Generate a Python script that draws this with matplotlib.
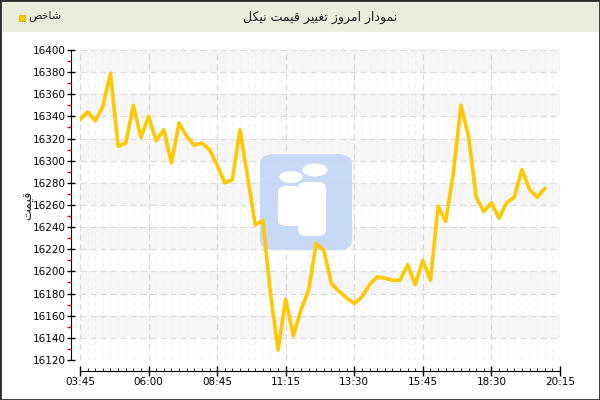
import matplotlib
matplotlib.use("Agg")
import matplotlib.pyplot as plt
from matplotlib.patches import Rectangle, FancyBboxPatch, Ellipse
from matplotlib.ticker import MultipleLocator

# nickel price, one value per sample (x axis is the sample index)
prices = [
    16337, 16344, 16336, 16349, 16379, 16313, 16316, 16350, 16321, 16340,
    16318, 16328, 16298, 16334, 16322, 16314, 16316, 16310, 16296, 16280,
    16283, 16328, 16285, 16242, 16246, 16180, 16129, 16175, 16142, 16165,
    16183, 16225, 16219, 16189, 16182, 16176, 16171, 16177, 16188, 16195,
    16194, 16192, 16192, 16206, 16188, 16210, 16192, 16259, 16245, 16289,
    16350, 16322, 16267, 16254, 16262, 16248, 16262, 16267, 16292, 16274,
    16267, 16275,
]
tick_index = [0, 9, 18, 27, 36, 45, 54, 63]
tick_labels = ["03:45", "06:00", "08:45", "11:15", "13:30", "15:45", "18:30", "20:15"]

title_text = "نمودار امروز تغییر قیمت نیکل"
legend_text = "شاخص"
ylabel_text = "قیمت"

# matplotlib has no arabic shaping, so pick presentation forms by hand
FORMS = {
    "ا": ("\ufe8d", "\ufe8e", None, None),
    "د": ("\ufea9", "\ufeaa", None, None),
    "ر": ("\ufead", "\ufeae", None, None),
    "ز": ("\ufeaf", "\ufeb0", None, None),
    "و": ("\ufeed", "\ufeee", None, None),
    "ت": ("\ufe95", "\ufe96", "\ufe97", "\ufe98"),
    "خ": ("\ufea5", "\ufea6", "\ufea7", "\ufea8"),
    "ش": ("\ufeb5", "\ufeb6", "\ufeb7", "\ufeb8"),
    "ص": ("\ufeb9", "\ufeba", "\ufebb", "\ufebc"),
    "غ": ("\ufecd", "\ufece", "\ufecf", "\ufed0"),
    "ق": ("\ufed5", "\ufed6", "\ufed7", "\ufed8"),
    "ل": ("\ufedd", "\ufede", "\ufedf", "\ufee0"),
    "م": ("\ufee1", "\ufee2", "\ufee3", "\ufee4"),
    "ن": ("\ufee5", "\ufee6", "\ufee7", "\ufee8"),
    "ی": ("\ufbfc", "\ufbfd", "\ufbfe", "\ufbff"),
    "ک": ("\ufb8e", "\ufb8f", "\ufb90", "\ufb91"),
}


def shape(text):
    out = []
    for i, ch in enumerate(text):
        if ch not in FORMS:
            out.append(ch)
            continue
        prev = text[i - 1] if i > 0 else ""
        nxt = text[i + 1] if i + 1 < len(text) else ""
        jp = prev in FORMS and FORMS[prev][2] is not None
        jn = nxt in FORMS and FORMS[ch][2] is not None
        iso, fin, ini, med = FORMS[ch]
        if jp and jn:
            out.append(med)
        elif jp:
            out.append(fin)
        elif jn:
            out.append(ini)
        else:
            out.append(iso)
    return "".join(out)[::-1]


W, H = 600, 400
fig = plt.figure(figsize=(6, 4), dpi=100)
fig.patch.set_facecolor("white")


def px(x, y):
    return x / W, 1 - y / H


# header band
fig.add_artist(Rectangle(px(0, 32), 1, 32 / H, transform=fig.transFigure,
                         facecolor="#ECECDC", edgecolor="none", zorder=0))
fig.add_artist(Rectangle((0, 0), 1, 1, transform=fig.transFigure,
                         facecolor="none", edgecolor="#2b2b2b", lw=2, zorder=10))
fig.text(*px(320, 17), shape(title_text), ha="center", va="center", fontsize=9, color="#222222")
fig.add_artist(Rectangle(px(19, 21), 6 / W, 6 / H, transform=fig.transFigure,
                         facecolor="#FFC800", edgecolor="#D8A800", lw=0.5))
fig.text(*px(28, 16), shape(legend_text), ha="left", va="center", fontsize=8, color="#222222")

ax = fig.add_axes([80 / W, 1 - 360 / H, 480 / W, 310 / H])
ax.set_xlim(0, 63)
ax.set_ylim(16120, 16400)

# alternating light bands
for lo in range(16140, 16400, 40):
    ax.axhspan(lo, lo + 20, color="#F6F6F6", zorder=0, lw=0)

for i in range(0, 64):
    if i % 9:
        ax.axvline(i, color="#F0F0F0", lw=0.7, ls=(0, (4, 4)), zorder=1)
for i in tick_index:
    ax.axvline(i, color="#D9D9D9", lw=0.9, ls=(0, (5, 3)), zorder=1)
for v in range(16120, 16401, 20):
    ax.axhline(v, color="#DCDCDC", lw=0.9, ls=(0, (5, 3)), zorder=1)

# watermark logo
logo = FancyBboxPatch(px(260, 250), 92 / W, 96 / H, boxstyle="round,pad=0,rounding_size=0.025",
                      transform=fig.transFigure, facecolor="#C3D7F6", edgecolor="none",
                      alpha=0.92, zorder=1.5, clip_on=False)
ax.add_patch(logo)
ax.add_patch(Ellipse(px(291, 177), 23 / W, 12 / H, transform=fig.transFigure,
                     facecolor="white", edgecolor="none", zorder=1.6, clip_on=False))
ax.add_patch(Ellipse(px(315, 170), 25 / W, 13 / H, transform=fig.transFigure,
                     facecolor="white", edgecolor="none", zorder=1.6, clip_on=False))
ax.add_patch(FancyBboxPatch(px(278, 226), 24 / W, 40 / H, boxstyle="round,pad=0,rounding_size=0.015",
                            transform=fig.transFigure, facecolor="white", edgecolor="none",
                            zorder=1.6, clip_on=False))
ax.add_patch(FancyBboxPatch(px(298, 236), 28 / W, 54 / H, boxstyle="round,pad=0,rounding_size=0.015",
                            transform=fig.transFigure, facecolor="white", edgecolor="none",
                            zorder=1.6, clip_on=False))

ax.plot(range(len(prices)), prices, color="#FFC800", lw=2.6, solid_joinstyle="round", zorder=3)

for s in ["top", "right"]:
    ax.spines[s].set_visible(False)
ax.spines["left"].set_position(("outward", 6.5))
ax.spines["bottom"].set_position(("outward", 8))
ax.spines["left"].set_color("black")
ax.spines["bottom"].set_color("black")

ax.set_xticks(tick_index)
ax.set_xticklabels(tick_labels)
ax.xaxis.set_minor_locator(MultipleLocator(1))
ax.yaxis.set_major_locator(MultipleLocator(20))
ax.yaxis.set_minor_locator(MultipleLocator(10))
ax.tick_params(axis="x", which="major", direction="inout", length=7, width=1, labelsize=7.5, pad=1)
ax.tick_params(axis="x", which="minor", direction="in", length=2, width=0.6)
ax.tick_params(axis="y", which="major", direction="inout", length=6, width=1, labelsize=7.5, pad=1)
ax.tick_params(axis="y", which="minor", direction="out", length=3, width=1, color="red")

fig.text(*px(29, 205), shape(ylabel_text), rotation=90, ha="center", va="center",
         fontsize=9, color="#222222")

fig.savefig("out.png", dpi=100)
